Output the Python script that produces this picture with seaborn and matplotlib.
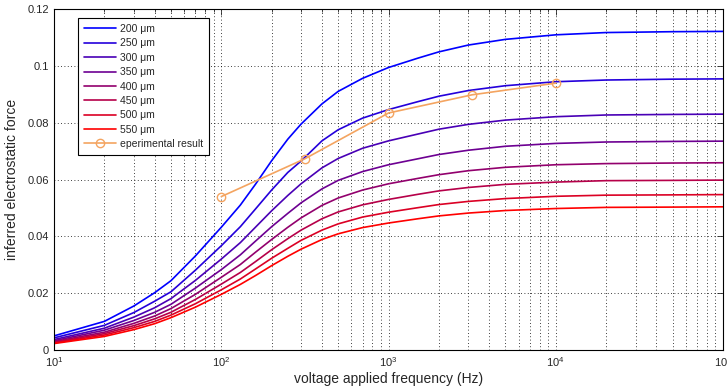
import numpy as np
import pandas as pd
import seaborn as sns
import matplotlib.pyplot as plt
from matplotlib.ticker import FuncFormatter, LogLocator

# frequencies the model curves were read at (Hz)
freq_hz = [10, 20, 30, 40, 50, 70, 100, 130, 160, 200, 250, 300, 400, 500, 700,
           1000, 1500, 2000, 3000, 5000, 10000, 20000, 50000, 100000]

# inferred force for each gap size
force_200 = [0.0050, 0.0101, 0.0155, 0.0202, 0.0244, 0.0331, 0.0432, 0.0510, 0.0583,
             0.0666, 0.0742, 0.0795, 0.0866, 0.0910, 0.0956, 0.0994, 0.1027, 0.1049,
             0.1073, 0.1093, 0.1109, 0.1117, 0.1120, 0.1121]
force_250 = [0.0043, 0.0087, 0.0132, 0.0172, 0.0205, 0.0281, 0.0367, 0.0434, 0.0496,
             0.0563, 0.0625, 0.0665, 0.0736, 0.0775, 0.0816, 0.0846, 0.0874, 0.0893,
             0.0913, 0.0930, 0.0944, 0.0950, 0.0953, 0.0954]
force_300 = [0.0037, 0.0077, 0.0116, 0.0149, 0.0181, 0.0245, 0.0320, 0.0378, 0.0432,
             0.0490, 0.0544, 0.0585, 0.0641, 0.0674, 0.0710, 0.0736, 0.0760, 0.0777,
             0.0794, 0.0809, 0.0821, 0.0827, 0.0829, 0.0830]
force_350 = [0.0033, 0.0070, 0.0104, 0.0133, 0.0161, 0.0218, 0.0283, 0.0335, 0.0383,
             0.0434, 0.0481, 0.0518, 0.0567, 0.0597, 0.0628, 0.0652, 0.0673, 0.0688,
             0.0703, 0.0717, 0.0727, 0.0732, 0.0734, 0.0735]
force_400 = [0.0030, 0.0063, 0.0094, 0.0120, 0.0146, 0.0196, 0.0256, 0.0301, 0.0344,
             0.0389, 0.0432, 0.0465, 0.0509, 0.0535, 0.0563, 0.0585, 0.0604, 0.0617,
             0.0631, 0.0643, 0.0652, 0.0656, 0.0658, 0.0659]
force_450 = [0.0027, 0.0058, 0.0086, 0.0110, 0.0133, 0.0178, 0.0232, 0.0273, 0.0311,
             0.0353, 0.0392, 0.0422, 0.0462, 0.0486, 0.0511, 0.0530, 0.0548, 0.0560,
             0.0572, 0.0583, 0.0591, 0.0596, 0.0597, 0.0598]
force_500 = [0.0025, 0.0053, 0.0079, 0.0101, 0.0123, 0.0163, 0.0212, 0.0250, 0.0285,
             0.0323, 0.0358, 0.0386, 0.0422, 0.0444, 0.0468, 0.0485, 0.0501, 0.0512,
             0.0523, 0.0533, 0.0541, 0.0545, 0.0546, 0.0547]
force_550 = [0.0023, 0.0048, 0.0072, 0.0093, 0.0114, 0.0151, 0.0196, 0.0231, 0.0262,
             0.0297, 0.0330, 0.0355, 0.0389, 0.0409, 0.0431, 0.0447, 0.0462, 0.0472,
             0.0482, 0.0491, 0.0498, 0.0502, 0.0503, 0.0504]

sizes = ["200 μm", "250 μm", "300 μm", "350 μm", "400 μm", "450 μm", "500 μm", "550 μm"]
curves = [force_200, force_250, force_300, force_350,
          force_400, force_450, force_500, force_550]

# experimental points
exp_freq = [100, 316.2, 1000, 3162, 10000]
exp_force = [0.0540, 0.0673, 0.0834, 0.0898, 0.0939]

# long form table for seaborn
rows = []
for name, vals in zip(sizes, curves):
    for f, v in zip(freq_hz, vals):
        rows.append({"freq": f, "force": v, "size": name})
df = pd.DataFrame(rows)
df_exp = pd.DataFrame({"freq": exp_freq, "force": exp_force})

# blue -> red like the matlab original
palette = [(k / 7, 0.0, 1 - k / 7) for k in range(8)]

sns.set_style("white")
plt.rcParams["font.family"] = ["Liberation Sans", "DejaVu Sans"]

fig = plt.figure(figsize=(7.27, 3.89), dpi=100)
ax = fig.add_axes([0.0743, 0.100, 0.9202, 0.877])

sns.lineplot(data=df, x="freq", y="force", hue="size", hue_order=sizes,
             palette=palette, linewidth=1.2, legend=False, ax=ax)
sns.lineplot(data=df_exp, x="freq", y="force", color="#f4a460", linewidth=1.2,
             marker="o", markersize=6, markerfacecolor="none",
             markeredgecolor="#f4a460", markeredgewidth=1.0, ax=ax)

ax.set_xscale("log")
ax.set_xlim(10, 1e5)
ax.set_ylim(0, 0.12)
ax.set_yticks([0, 0.02, 0.04, 0.06, 0.08, 0.1, 0.12])
ax.yaxis.set_major_formatter(FuncFormatter(lambda v, p: "%g" % round(v, 3)))
ax.xaxis.set_minor_locator(LogLocator(base=10, subs=np.arange(2, 10)))

ax.grid(True, which="major", axis="both", color="k", linestyle=(0, (1, 3)), linewidth=0.6)
ax.grid(True, which="minor", axis="x", color="k", linestyle=(0, (1, 3)), linewidth=0.6)
ax.tick_params(direction="in", which="both", top=True, right=True, labelsize=8,
               length=4, width=0.6)
ax.tick_params(which="minor", length=2)
for sp in ax.spines.values():
    sp.set_color("k")
    sp.set_linewidth(0.8)

ax.set_xlabel("voltage applied frequency (Hz)", fontsize=10, labelpad=2)
ax.set_ylabel("inferred electrostatic force", fontsize=10, labelpad=6)

handles = ax.lines[:9]
labels = sizes + ["eperimental result"]
leg = ax.legend(handles, labels, loc="upper left", bbox_to_anchor=(0.036, 0.974),
                borderaxespad=0, fontsize=7.5, frameon=True, fancybox=False,
                framealpha=1, edgecolor="k", handlelength=3.0, handletextpad=0.4,
                labelspacing=0.42, borderpad=0.6)
leg.get_frame().set_linewidth(0.8)

fig.savefig("out.png", dpi=100)
